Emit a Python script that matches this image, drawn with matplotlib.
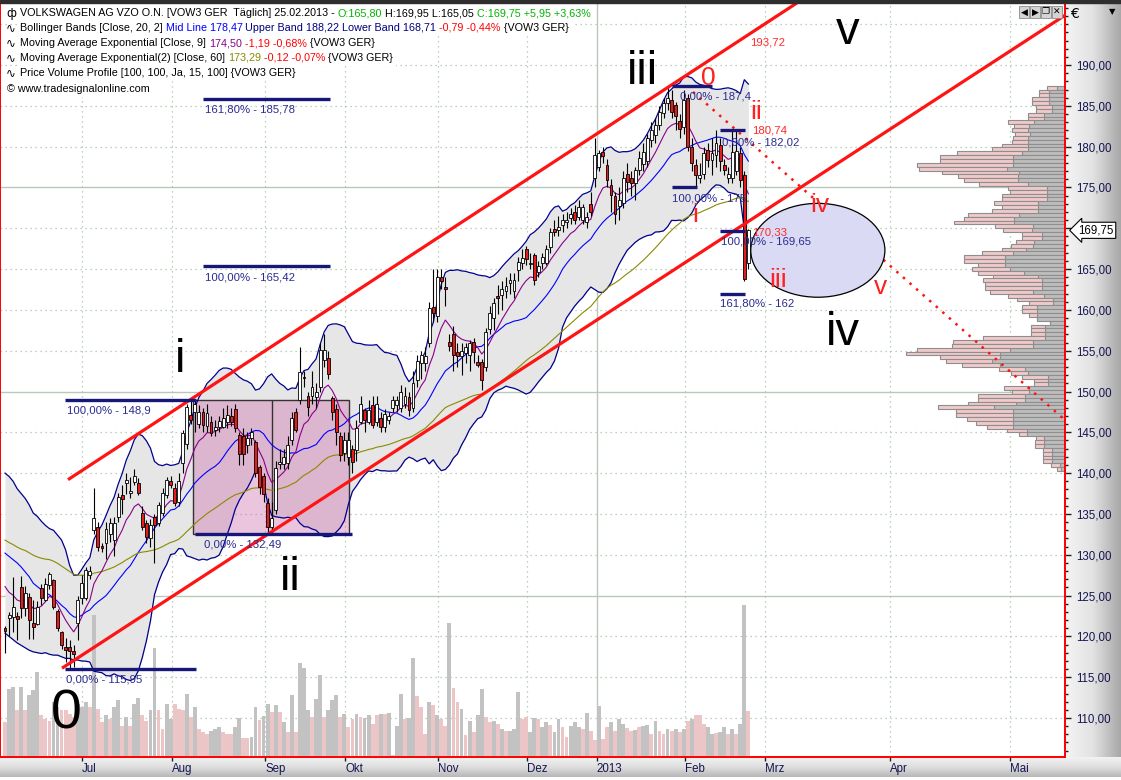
import matplotlib
matplotlib.use("Agg")
import matplotlib.pyplot as plt
import numpy as np
import pandas as pd
from matplotlib.patches import Rectangle, Ellipse
from matplotlib.colors import LinearSegmentedColormap
from matplotlib.ticker import FuncFormatter, MultipleLocator, FixedLocator

FONT = "Liberation Sans"

# ---- daily bars VOW3, early June 2012 .. 25.02.2013
opens = [121.0, 122.2, 122.4, 122.5, 126.0, 123.5, 124.8, 121.6, 121.5, 125.9,
         124.5, 126.3, 126.9, 123.1, 120.5, 118.7, 118.7, 118.2, 121.6, 124.7,
         124.7, 127.5, 133.0, 133.4, 131.1, 131.4, 132.5, 131.8, 134.6, 137.3,
         138.8, 137.6, 138.9, 138.8, 135.1, 133.9, 132.1, 134.6, 133.9, 135.1,
         137.3, 139.0, 138.2, 136.5, 141.2, 143.6, 147.1, 147.5, 146.0, 147.5,
         145.8, 146.3, 145.3, 145.7, 145.7, 146.3, 147.0, 147.9, 144.7, 144.5,
         143.4, 144.3, 143.8, 140.8, 139.6, 136.3, 133.4, 135.5, 141.1, 141.1,
         141.2, 144.1, 147.5, 149.0, 151.8, 149.4, 149.4, 149.3, 150.6, 153.9,
         154.1, 149.2, 147.9, 144.5, 142.5, 142.0, 143.0, 142.8, 146.3, 147.7,
         146.3, 148.3, 146.3, 146.8, 145.6, 146.5, 148.0, 148.4, 148.0, 148.5,
         149.3, 148.0, 151.4, 153.5, 153.5, 156.0, 160.3, 159.2, 164.0, 162.8,
         156.1, 157.1, 154.8, 154.3, 154.7, 154.5, 156.1, 153.6, 153.6, 153.0,
         157.7, 159.0, 161.7, 161.8, 162.3, 163.3, 162.3, 164.9, 165.7, 167.4,
         165.6, 166.7, 164.7, 165.7, 165.7, 167.7, 169.9, 169.8, 170.4, 170.8,
         171.2, 172.0, 171.4, 171.0, 170.8, 173.0, 176.1, 177.5, 179.3, 177.8,
         175.3, 174.0, 172.7, 173.1, 176.7, 176.1, 175.5, 177.1, 177.9, 178.2,
         180.8, 181.4, 182.6, 184.1, 185.3, 185.7, 185.1, 183.1, 182.4, 185.9,
         179.9, 177.8, 176.1, 176.7, 179.6, 178.4, 179.0, 180.2, 177.8, 176.1,
         176.1, 177.0, 179.2, 176.5, 165.8]
highs = [121.3, 123.0, 127.3, 123.0, 127.4, 126.2, 125.3, 124.5, 124.3, 126.4,
         127.1, 127.9, 127.0, 123.3, 120.6, 119.8, 119.5, 119.0, 125.0, 127.5,
         128.5, 128.6, 138.2, 134.0, 131.5, 134.0, 134.5, 134.6, 137.6, 138.5,
         140.0, 139.5, 140.5, 139.4, 136.0, 134.2, 134.4, 135.0, 136.5, 138.2,
         139.5, 139.6, 138.8, 140.0, 145.3, 148.5, 148.9, 148.9, 148.4, 148.0,
         148.5, 147.0, 146.5, 147.0, 148.0, 148.3, 148.0, 148.5, 145.0, 145.5,
         145.0, 145.5, 144.0, 141.0, 140.0, 137.0, 136.5, 141.5, 143.0, 143.0,
         144.5, 147.5, 148.0, 155.5, 152.5, 150.0, 152.5, 151.0, 156.0, 157.0,
         155.0, 149.5, 148.5, 145.0, 145.0, 145.0, 143.5, 146.5, 149.5, 148.0,
         149.0, 149.5, 149.5, 147.5, 147.8, 147.5, 149.5, 149.5, 150.8, 150.5,
         150.0, 152.5, 154.5, 155.0, 155.5, 161.0, 165.0, 165.0, 165.0, 164.0,
         157.0, 158.0, 156.0, 156.0, 156.0, 156.3, 156.5, 154.5, 154.0, 157.8,
         160.5, 161.5, 163.0, 163.5, 164.0, 164.5, 164.5, 166.5, 167.5, 167.8,
         167.0, 167.0, 166.0, 167.0, 168.0, 170.0, 171.0, 171.5, 171.8, 172.0,
         172.5, 172.8, 173.5, 173.0, 172.0, 174.5, 181.0, 179.6, 180.0, 178.5,
         176.0, 174.5, 175.0, 177.0, 178.0, 177.0, 177.5, 179.5, 180.5, 181.5,
         183.0, 183.5, 185.0, 186.0, 187.4, 187.0, 185.5, 184.0, 187.0, 186.5,
         181.0, 178.5, 178.0, 180.0, 180.5, 181.0, 182.0, 181.0, 178.5, 177.5,
         182.0, 182.0, 180.0, 177.0, 169.95]
lows = [118.0, 120.0, 120.5, 119.5, 122.2, 122.5, 119.7, 119.7, 121.4, 123.8,
        124.3, 125.8, 123.4, 120.7, 118.5, 116.8, 115.95, 116.2, 119.6, 124.0,
        124.5, 127.0, 132.5, 130.5, 130.3, 129.5, 131.6, 129.8, 134.0, 135.0,
        137.5, 137.0, 138.5, 137.3, 133.0, 131.5, 131.0, 129.0, 133.5, 134.8,
        137.0, 138.2, 136.0, 136.0, 140.0, 143.0, 146.0, 145.0, 145.5, 145.0,
        145.0, 144.5, 144.5, 145.0, 145.5, 145.5, 145.8, 145.0, 141.0, 141.0,
        142.5, 143.5, 139.5, 137.5, 136.5, 132.49, 132.5, 135.0, 140.5, 140.5,
        140.5, 143.5, 145.0, 148.5, 150.5, 147.0, 148.5, 148.0, 150.0, 153.0,
        151.5, 146.5, 143.5, 141.5, 141.5, 141.0, 140.0, 141.5, 146.0, 145.0,
        146.0, 145.5, 145.8, 145.0, 145.0, 146.0, 147.5, 147.5, 147.5, 148.0,
        147.0, 147.5, 150.5, 151.5, 152.5, 155.5, 158.5, 158.5, 162.5, 160.5,
        155.0, 152.5, 153.0, 152.0, 153.5, 152.5, 153.5, 153.0, 150.2, 152.5,
        157.0, 157.5, 159.5, 160.0, 161.5, 162.0, 161.5, 163.5, 165.0, 165.5,
        165.0, 163.0, 164.0, 165.0, 165.5, 167.0, 169.0, 169.0, 169.5, 170.0,
        170.5, 170.5, 171.0, 170.5, 170.0, 171.5, 175.0, 177.0, 178.0, 175.0,
        172.0, 170.5, 171.0, 172.5, 174.5, 174.0, 173.5, 176.5, 177.0, 177.5,
        180.0, 180.5, 182.0, 183.5, 184.5, 183.5, 182.0, 181.0, 181.5, 179.5,
        177.0, 175.0, 175.5, 176.0, 177.5, 176.5, 177.5, 177.0, 176.5, 175.5,
        175.5, 176.5, 175.0, 163.5, 165.05]
closes = [120.6, 122.6, 123.6, 122.1, 123.5, 125.3, 122.0, 121.2, 123.6, 124.7,
          126.4, 127.6, 123.6, 121.0, 118.9, 118.3, 118.2, 117.8, 124.5, 126.5,
          128.1, 128.0, 134.5, 131.0, 130.8, 133.2, 133.9, 133.9, 137.1, 136.8,
          139.2, 137.8, 139.6, 137.6, 133.4, 132.2, 133.6, 133.6, 136.1, 137.6,
          139.2, 138.6, 136.3, 139.0, 144.9, 148.1, 146.5, 148.5, 147.5, 145.9,
          147.4, 144.9, 145.7, 146.4, 146.7, 147.1, 146.3, 145.5, 142.4, 142.4,
          144.3, 145.0, 140.0, 138.3, 137.5, 133.4, 134.5, 140.6, 141.4, 142.0,
          143.4, 146.7, 145.3, 152.4, 151.6, 148.1, 150.6, 150.0, 155.1, 155.1,
          152.2, 147.5, 145.1, 142.2, 144.0, 144.0, 141.4, 145.5, 148.5, 146.5,
          147.7, 145.9, 148.5, 145.6, 147.2, 147.0, 149.0, 149.0, 150.0, 149.4,
          147.7, 151.0, 153.7, 154.5, 154.3, 160.2, 159.6, 164.0, 163.6, 162.5,
          155.6, 154.5, 154.3, 155.0, 155.5, 155.9, 154.9, 153.3, 151.4, 157.3,
          159.6, 160.8, 161.4, 162.6, 162.9, 163.7, 163.7, 165.9, 166.4, 166.2,
          165.8, 163.7, 165.4, 166.5, 167.4, 169.6, 169.6, 170.2, 171.0, 171.0,
          171.8, 171.0, 172.6, 172.6, 171.4, 172.0, 179.0, 179.2, 178.8, 175.9,
          174.1, 171.7, 173.5, 176.1, 175.7, 175.5, 177.1, 178.6, 179.4, 181.0,
          182.1, 182.7, 184.3, 185.3, 185.9, 184.3, 183.7, 182.2, 185.7, 180.0,
          178.0, 176.5, 176.5, 179.2, 178.4, 179.2, 180.4, 178.2, 177.1, 176.7,
          179.4, 179.5, 175.9, 163.8, 169.75]

# volume in million shares, g = grey bar, p = pink bar
volume = [0.69, 1.35, 1.39, 0.92, 1.39, 0.92, 1.22, 1.32, 1.67, 0.82,
          0.75, 0.72, 1.09, 0.99, 0.92, 0.92, 0.85, 0.79, 1.05, 0.99,
          1.09, 0.99, 2.80, 0.95, 0.69, 0.82, 0.75, 0.99, 1.13, 0.62,
          0.79, 0.62, 1.05, 1.17, 0.82, 0.72, 0.92, 2.15, 0.92, 0.55,
          1.05, 0.75, 1.05, 0.95, 0.92, 1.25, 0.79, 0.99, 0.55, 0.49,
          0.45, 0.52, 0.55, 0.60, 0.49, 0.45, 0.45, 0.59, 0.77, 0.37,
          0.37, 0.39, 0.99, 0.74, 0.80, 1.05, 0.89, 1.02, 0.89, 0.69,
          0.50, 1.22, 0.49, 1.85, 1.75, 0.92, 0.79, 1.15, 1.62, 0.79,
          0.93, 1.12, 1.23, 0.79, 0.85, 0.59, 0.75, 0.84, 0.79, 0.77,
          0.82, 0.65, 0.82, 0.84, 0.85, 0.87, 0.03, 0.62, 1.25, 0.75,
          0.77, 1.95, 1.20, 0.99, 0.45, 1.09, 1.02, 0.82, 0.75, 0.62,
          2.64, 1.37, 1.09, 0.95, 0.44, 0.72, 0.49, 0.82, 1.35, 0.79,
          0.69, 0.71, 0.65, 0.55, 0.51, 0.52, 0.55, 1.29, 0.75, 0.79,
          0.49, 0.77, 0.75, 0.59, 0.69, 0.64, 0.49, 0.75, 0.59, 0.40,
          0.62, 0.69, 0.59, 0.55, 0.87, 0.52, 0.33, 1.00, 0.35, 0.59,
          0.69, 0.52, 0.75, 0.65, 0.57, 0.52, 0.53, 0.59, 0.62, 0.64,
          0.45, 0.72, 0.52, 0.45, 0.55, 0.52, 0.55, 0.49, 0.55, 0.72,
          0.75, 0.82, 0.82, 0.65, 0.59, 0.45, 0.47, 0.49, 0.60, 0.45,
          0.55, 0.45, 0.65, 3.00, 0.91]
vol_color = ("pggpgpgggpppggppppgggp"
             "gppgpggpgpggppggppggpppgpgpppgggpppggppg"
             "gpggpgpgpgpgggpggpgggpgppgpggppgpgpggpgg"
             "pppgpgppgppgpgpggppgpgpgggppggpggpggppgg"
             "gpgppgppgpggppgpggpgppgpgpgpgpppggpggpgp"
             "ggp")
assert len(volume) == len(closes) == len(vol_color) == 185

# indicator values at the left edge (history before the first bar is not on the chart)
bb_upper_head = [140.0, 139.6, 139.0, 138.1, 137.5, 136.9, 136.1, 135.1, 134.7, 134.1,
                 133.6, 133.2, 133.0, 132.4, 131.8, 130.6, 128.7, 127.5, 127.5]
bb_mid_head = [130.2, 129.8, 129.4, 129.0, 128.5, 127.9, 127.3, 126.5, 126.1, 125.7,
               125.3, 125.1, 124.7, 124.3, 123.8, 123.4, 122.8, 122.4, 122.3]
bb_lower_head = [120.4, 120.0, 119.6, 119.2, 118.9, 118.6, 118.3, 118.1, 118.0, 117.9,
                 118.0, 117.8, 117.7, 117.7, 117.5, 117.3, 117.3, 117.1, 117.1]
ema9_start = 126.1
ema60_start = 131.8

# price volume profile, 100 rows from the top (187,2) down to 140,5
prof_grey = [8.3, 15.7, 15.7, 15.7, 15.7, 13.3, 13.3, 20.7, 20.7, 30.7,
             35.7, 37.3, 35.0, 36.7, 37.3, 36.7, 36.7, 42.7, 51.7, 51.7,
             51.7, 58.3, 45.7, 46.7, 46.7, 37.3, 18.3, 18.3, 18.3, 18.3,
             26.7, 26.7, 26.7, 45.7, 50.7, 50.7, 31.7, 32.7, 23.3, 23.3,
             30.7, 31.7, 39.3, 51.7, 59.7, 59.7, 59.7, 54.7, 40.7, 26.7,
             23.3, 23.3, 23.3, 31.7, 20.7, 11.7, 11.7, 27.7, 27.7, 27.7,
             27.7, 15.0, 19.7, 19.7, 19.7, 19.7, 31.7, 31.7, 54.7, 64.7,
             64.7, 72.7, 64.7, 39.7, 36.7, 16.7, 16.7, 16.7, 35.7, 35.7,
             39.7, 39.7, 48.7, 70.7, 51.7, 51.7, 51.7, 51.7, 51.7, 37.7,
             37.7, 20.7, 20.7, 20.7, 12.7, 12.7, 12.7, 12.7, 4.7, 3.7]
prof_pink = [10, 10, 10, 17, 17, 16, 16, 16, 16, 26.7,
             15, 15.3, 15, 15, 15.3, 26, 36.7, 65, 73, 73,
             96, 87.3, 77, 60, 54, 48.3, 38.3, 36.3, 44.3, 44.3,
             44, 36, 46.7, 51, 50, 60, 38, 29, 19.3, 19.3,
             18, 22, 23.3, 31, 41, 41, 27, 38, 46, 45,
             58.3, 56.3, 56.3, 43, 36, 36, 24, 15, 15, 8,
             0, 0, 14, 14, 14, 62, 80, 81, 93, 94,
             60, 46, 38, 26, 17, 26, 14, 14, 25, 17,
             47, 47, 48, 56, 57, 57, 46, 37, 26, 20,
             8, 8, 9, 9, 9, 9, 9, 9, 9, 4]

month_names = ["Jul", "Aug", "Sep", "Okt", "Nov", "Dez", "2013", "Feb", "Mrz", "Apr", "Mai"]
month_pos = [19.0, 41.3, 64.4, 84.2, 107.2, 129.2, 146.5, 168.3, 188.1, 219.1, 248.8]

# drawn objects: fibonacci levels (price, x from, x to, label), channels, waves
fib_lines = [(185.78, 49, 80.4), (165.42, 49, 80.4), (148.9, 14.9, 47.3), (132.49, 47, 85.9),
             (115.95, 14.9, 47.3), (187.4, 165.1, 175), (182.02, 177, 183.2), (175.0, 165.1, 171.3),
             (169.65, 177, 183.2), (162.0, 177, 183.2)]
fib_labels = [("161,80% - 185,78", 49.5, 184.5), ("100,00% - 165,42", 49.5, 164.0),
              ("100,00% - 148,9", 15.3, 147.7), ("0,00% - 132,49", 49.3, 131.2),
              ("0,00% - 115,95", 15.1, 114.7), ("0,00% - 187,4", 167.1, 186.1),
              ("0,00% - 182,02", 177.5, 180.45), ("100,00% - 175", 165.1, 173.7),
              ("100,00% - 169,65", 177.2, 168.4), ("161,80% - 162", 177.0, 160.8)]
red_values = [("193,72", 184.4, 192.7), ("180,74", 184.9, 181.95), ("170,33", 184.9, 169.5)]
channel_upper = ([15.6, 196.0], [139.2, 197.6])
channel_lower = ([14.1, 262.4], [116.1, 196.1])
target_line = ([170.3, 262.4], [186.7, 146.5])
waves_big = [("0", 15.1, 110.4, 40), ("i", 43.3, 153.9, 34), ("ii", 70.5, 127.2, 34),
             ("iii", 157.7, 189.1, 34), ("iv", 207.4, 157.2, 34), ("v", 208.7, 194.0, 34)]
waves_small = [("0", 174.0, 188.4), ("ii", 185.9, 184.2), ("i", 170.8, 171.6),
               ("iv", 201.7, 172.8), ("iii", 191.3, 163.7), ("v", 216.6, 162.8)]

# ---------------- figure layout (pixels)
W, H = 1121, 780
L, R, T, B = 0, 1065, 3, 757
fig = plt.figure(figsize=(W / 100, H / 100), dpi=100)
fig.patch.set_facecolor("white")
pos = [L / W, 1 - B / H, (R - L) / W, (B - T) / H]
XLIM = (-1.24, 262.38)
YLIM = (105.22, 197.60)

# right scale panel and bottom time panel gradients
ax_r = fig.add_axes([R / W, 1 - B / H, 1 - R / W, (B - T) / H], zorder=-2)
ax_r.imshow(np.linspace(0, 1, 64)[None, :], aspect="auto",
            cmap=LinearSegmentedColormap.from_list("r", ["#f4f4f4", "#e2e2e2", "#a8a8a8"]))
ax_r.axis("off")
ax_b = fig.add_axes([0, 3 / H, 1, 20 / H], zorder=-2)
ax_b.imshow(np.linspace(0, 1, 32)[:, None], aspect="auto",
            cmap=LinearSegmentedColormap.from_list("b", ["#f2f2f2", "#dedede", "#b8b8b8"]))
ax_b.axis("off")
fig.add_artist(Rectangle((0, 1 - 3 / H), 1, 3 / H, transform=fig.transFigure,
                         color="#2e2e2e", zorder=10))

# background + grid
ax_bg = fig.add_axes(pos, zorder=0)
ax_bg.set_facecolor("#f5f5f5")
ax_bg.set_xlim(XLIM)
ax_bg.set_ylim(YLIM)
ax_bg.axis("off")
ax_bg.patch.set_visible(True)
for p in range(110, 200, 5):
    if p % 25 == 0:
        ax_bg.axhline(p, color="#b9c9b9", lw=1.0)
    else:
        ax_bg.axhline(p, color="#a5c2a5", lw=0.9, ls=(0, (1, 3)))
for name, xp in zip(month_names, month_pos):
    if name == "2013":
        ax_bg.axvline(xp, color="#b9c9b9", lw=1.0)
    else:
        ax_bg.axvline(xp, color="#a5c2a5", lw=0.9, ls=(0, (1, 3)))

# price volume profile
ax_p = fig.add_axes(pos, zorder=0.5)
ax_p.set_facecolor("none")
ax_p.set_xlim(R - L, 0)
ax_p.set_ylim(YLIM)
ax_p.axis("off")
levels = np.linspace(187.22, 140.5, len(prof_grey))
step = abs(levels[1] - levels[0])
ax_p.barh(levels, prof_grey, height=step, left=0, color="#bdbdbd", edgecolor="#8e8e8e", lw=0.8)
ax_p.barh(levels, prof_pink, height=step, left=prof_grey, color="#f0caca", edgecolor="#8e8e8e", lw=0.8)

# main price axes
ax = fig.add_axes(pos, zorder=1)
ax.set_facecolor("none")
ax.set_xlim(XLIM)
ax.set_ylim(YLIM)

idx = np.arange(len(closes))
o, hi, lo, c = map(np.array, (opens, highs, lows, closes))

cs = pd.Series(closes)
mid = cs.rolling(20).mean()
sd = cs.rolling(20).std(ddof=0)
upper = mid + 2 * sd
lower = mid - 2 * sd
n0 = len(bb_mid_head)
mid.iloc[:n0] = bb_mid_head
upper.iloc[:n0] = bb_upper_head
lower.iloc[:n0] = bb_lower_head
ema9 = pd.Series([ema9_start] + closes[1:]).ewm(span=9, adjust=False).mean()
ema60 = pd.Series([ema60_start] + closes[1:]).ewm(span=60, adjust=False).mean()

ax.fill_between(idx, lower, upper, color="#e6e6e6", lw=0, zorder=1)

# volume overlay at the bottom of the price pane
VOL_SPAN = 14.88
vcols = ["#c2c2c2" if k == "g" else "#ecc6c6" for k in vol_color]
ax.bar(idx, np.array(volume) / VOL_SPAN, width=0.95, bottom=0, color=vcols, lw=0,
       transform=ax.get_xaxis_transform(), zorder=1.3)

# consolidation box
ax.add_patch(Rectangle((46.5, 132.49), 85.1 - 46.5, 149.0 - 132.49, facecolor=(0.80, 0.40, 0.66, 0.38),
                       edgecolor="#333333", lw=1.0, zorder=1.6))
ax.vlines(66.1, 132.49, 149.0, color="#333333", lw=1.0, zorder=1.6)

ax.plot(idx, upper, color="#00008c", lw=0.9, zorder=2.2)
ax.plot(idx, lower, color="#00008c", lw=0.9, zorder=2.2)
ax.plot(idx, mid, color="#0000ff", lw=0.8, zorder=2.2)
ax.plot(idx, ema60, color="#8a8a00", lw=0.8, zorder=2.3)
ax.plot(idx, ema9, color="#8b008b", lw=0.8, zorder=2.3)

# candles
ax.vlines(idx, lo, hi, color="black", lw=0.8, zorder=3)
ax.bar(idx, c - o, bottom=o, width=0.72, color=np.where(c >= o, "white", "#e41c1c"),
       edgecolor="black", lw=0.6, zorder=3.1)

# channels and target line
ax.plot(*channel_upper, color="#ff1414", lw=2.3, zorder=4, solid_capstyle="butt")
ax.plot(*channel_lower, color="#ff1414", lw=2.3, zorder=4, solid_capstyle="butt")
ax.plot(*target_line, color="#ff1414", lw=1.8, ls=(0, (1, 2.5)), zorder=4)

ax.add_patch(Ellipse((201.2, 167.3), 33.2, 11.5, facecolor="#dadaf4", edgecolor="black", lw=0.9, zorder=4.2))

for price, x0, x1 in fib_lines:
    ax.hlines(price, x0, x1, color="#17177a", lw=2.4, zorder=4.5)
for txt, x, y in fib_labels:
    ax.text(x, y, txt, color="#2b2b90", fontsize=8.2, family=FONT, va="center", ha="left", zorder=5)
for txt, x, y in red_values:
    ax.text(x, y, txt, color="#ff2a2a", fontsize=8.2, family=FONT, va="center", ha="left", zorder=5)
for txt, x, y, fs in waves_big:
    ax.text(x, y, txt, color="black", fontsize=fs, family=FONT, va="center", ha="center", zorder=6)
for txt, x, y in waves_small:
    ax.text(x, y, txt, color="#ff2020", fontsize=19, family=FONT, va="center", ha="center", zorder=6)

# axes styling
for s in ax.spines.values():
    s.set_color("#ff0000")
    s.set_linewidth(1.4)
ax.yaxis.tick_right()
ax.yaxis.set_major_locator(FixedLocator(np.arange(110, 191, 5)))
ax.yaxis.set_minor_locator(MultipleLocator(1))
# the 170 label sits under the last-price marker
ax.yaxis.set_major_formatter(FuncFormatter(
    lambda v, p: "" if abs(v - 170) < 0.1 else f"{v:.2f}".replace(".", ",")))
ax.tick_params(axis="y", which="major", length=4, width=1, color="#202020", pad=4,
               labelsize=8.3, labelcolor="#141450")
ax.tick_params(axis="y", which="minor", length=2.2, width=1, color="#202020")
ax.set_xticks(month_pos)
ax.set_xticklabels(month_names)
ax.tick_params(axis="x", length=3, width=1, color="#202020", pad=1.5, labelsize=8.3, labelcolor="#141450")
for t in ax.get_xticklabels() + ax.get_yticklabels():
    t.set_family(FONT)
for t in ax.get_xticklabels():
    t.set_ha("left")

ax.text(1.0125, closes[-1], f"{closes[-1]:.2f}".replace(".", ","), transform=ax.get_yaxis_transform(),
        va="center", ha="left", fontsize=8.3, family=FONT, color="black", zorder=7,
        bbox=dict(boxstyle="larrow,pad=0.18", fc="white", ec="black", lw=0.8))
fig.text(1070 / W, 1 - 14 / H, "€", fontsize=10, family="DejaVu Sans", va="center", ha="left")
fig.text(1112 / W, 1 - 12 / H, "▼", fontsize=6, family="DejaVu Sans", va="center", ha="center")
for k, g in enumerate(["◀", "▶", "❐", "✕"]):
    fig.text((1024 + 11 * k) / W, 1 - 12 / H, g, fontsize=6.5, family="DejaVu Sans", va="center",
             ha="center", zorder=8, bbox=dict(boxstyle="square,pad=0.12", fc="#d4d4d4", ec="#8a8a8a", lw=0.6))

# header lines
rend = fig.canvas.get_renderer()
HFS = 7.75


def header(y_px, parts, x_px=20, icon=None):
    x = x_px
    for s, col in parts:
        t = fig.text(x / W, 1 - y_px / H, s, color=col, fontsize=HFS, family=FONT,
                     va="center", ha="left", zorder=9)
        x = t.get_window_extent(rend).x1
    fig.add_artist(Rectangle(((x_px - 2) / W, 1 - (y_px + 7) / H), (x - x_px + 4) / W, 14 / H,
                             transform=fig.transFigure, color="white", zorder=8))
    if icon:
        fig.text(6 / W, 1 - y_px / H, icon, fontsize=8.5, family="DejaVu Sans", va="center",
                 ha="left", zorder=9)


header(13, [("VOLKSWAGEN AG VZO O.N. [VOW3 GER  Täglich] 25.02.2013 - ", "black"),
            ("O:165,80", "#00b400"), (" H:169,95 L:165,05 ", "black"),
            ("C:169,75 +5,95 +3,63%", "#00b400")], icon="ф")
header(28, [("Bollinger Bands [Close, 20, 2] ", "black"), ("Mid Line 178,47", "#0000ff"),
            (" Upper Band 188,22 Lower Band 168,71", "#000080"), (" -0,79 -0,44%", "#ff0000"),
            (" {VOW3 GER}", "black")], icon="∿")
header(43, [("Moving Average Exponential [Close, 9] ", "black"), ("174,50", "#8b008b"),
            (" -1,19 -0,68%", "#ff0000"), (" {VOW3 GER}", "black")], icon="∿")
header(58, [("Moving Average Exponential(2) [Close, 60] ", "black"), ("173,29", "#8a8a00"),
            (" -0,12 -0,07%", "#ff0000"), (" {VOW3 GER}", "black")], icon="∿")
header(73, [("Price Volume Profile [100, 100, Ja, 15, 100] {VOW3 GER}", "black")], icon="∿")
header(89, [("© www.tradesignalonline.com", "black")], x_px=7)

fig.savefig("out.png", dpi=100)
